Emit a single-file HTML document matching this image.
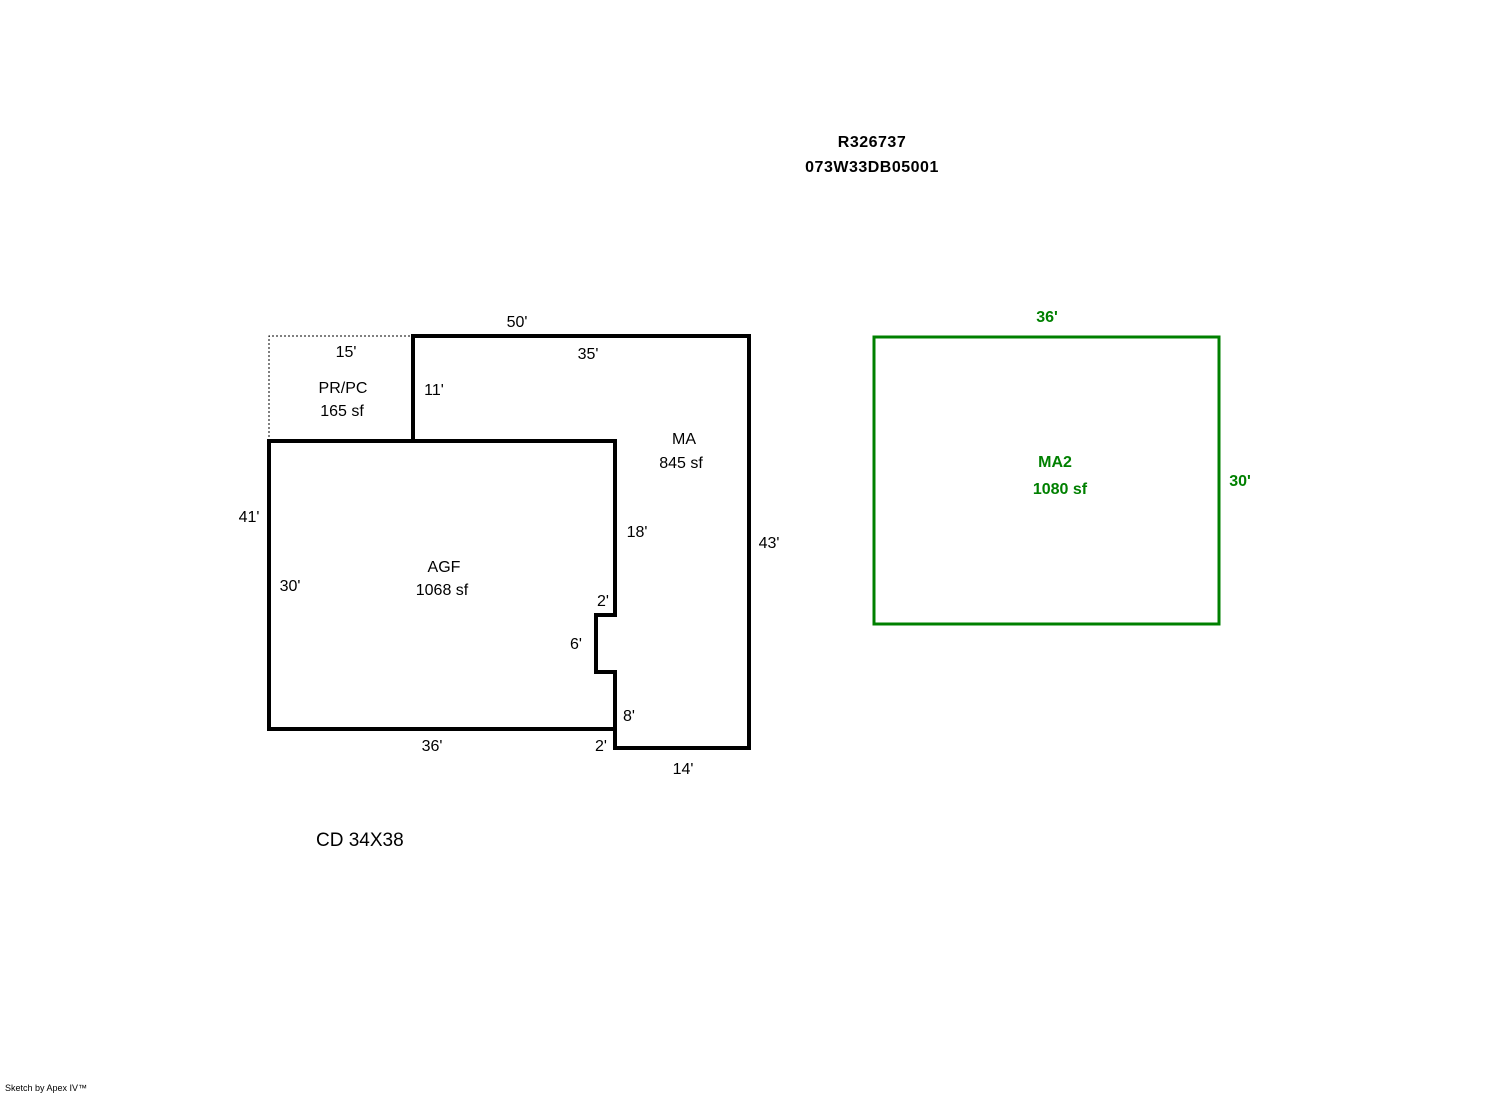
<!DOCTYPE html>
<html><head><style>
body{margin:0;background:#fff;}
svg{display:block;}
text{font-family:"Liberation Sans",Arial,sans-serif;font-size:16px;fill:#000;}
.b{font-weight:bold;letter-spacing:0.5px;}
.g{fill:#008000;font-weight:bold;}
</style></head><body>
<svg width="1492" height="1094" viewBox="0 0 1492 1094">
<text x="872" y="147" text-anchor="middle" class="b">R326737</text>
<text x="872" y="172" text-anchor="middle" class="b">073W33DB05001</text>
<path d="M269,441 V336 H413" fill="none" stroke="#000" stroke-width="1" stroke-dasharray="2,2"/>
<path d="M269,441 H615 V615 H596 V672 H615 V729 H269 Z" fill="none" stroke="#000" stroke-width="4" stroke-linejoin="miter"/>
<path d="M413,441 V336 H749 V748 H615 V729" fill="none" stroke="#000" stroke-width="4" stroke-linejoin="miter"/>
<rect x="874" y="337" width="345" height="287" fill="none" stroke="#008000" stroke-width="3"/>
<text x="517" y="327" text-anchor="middle">50'</text>
<text x="346" y="357" text-anchor="middle">15'</text>
<text x="588" y="359" text-anchor="middle">35'</text>
<text x="343" y="393" text-anchor="middle">PR/PC</text>
<text x="342" y="416" text-anchor="middle">165 sf</text>
<text x="434" y="395" text-anchor="middle">11'</text>
<text x="684" y="444" text-anchor="middle">MA</text>
<text x="681" y="468" text-anchor="middle">845 sf</text>
<text x="249" y="522" text-anchor="middle">41'</text>
<text x="637" y="537" text-anchor="middle">18'</text>
<text x="769" y="548" text-anchor="middle">43'</text>
<text x="444" y="572" text-anchor="middle">AGF</text>
<text x="442" y="595" text-anchor="middle">1068 sf</text>
<text x="290" y="591" text-anchor="middle">30'</text>
<text x="603" y="606" text-anchor="middle">2'</text>
<text x="576" y="649" text-anchor="middle">6'</text>
<text x="629" y="721" text-anchor="middle">8'</text>
<text x="432" y="751" text-anchor="middle">36'</text>
<text x="601" y="751" text-anchor="middle">2'</text>
<text x="683" y="774" text-anchor="middle">14'</text>
<text x="1047" y="322" text-anchor="middle" class="g">36'</text>
<text x="1055" y="467" text-anchor="middle" class="g">MA2</text>
<text x="1060" y="494" text-anchor="middle" class="g">1080 sf</text>
<text x="1240" y="486" text-anchor="middle" class="g">30'</text>
<text x="316" y="846" style="font-size:19px">CD 34X38</text>
<text x="5" y="1091" style="font-size:9px">Sketch by Apex IV™</text>
</svg>
</body></html>
